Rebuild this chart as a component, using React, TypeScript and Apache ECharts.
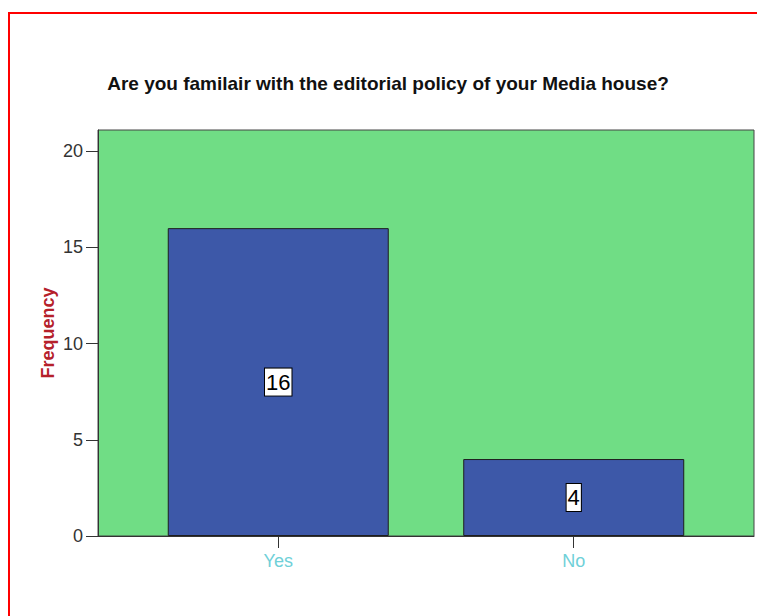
import React, { useEffect, useRef } from "react";
import * as echarts from "echarts";

// Survey responses
const categories: string[] = ["Yes", "No"];
const frequencies: number[] = [16, 4];
const yTicks: number[] = [0, 5, 10, 15, 20];

const titleText = "Are you familair with the editorial policy of your Media house?";
const yAxisName = "Frequency";

export default function App() {
  const ref = useRef<HTMLDivElement>(null);

  useEffect(() => {
    if (!ref.current) return;
    const chart = echarts.init(ref.current, null, { renderer: "svg" });
    const catIndex = categories.map((_, i) => i);

    chart.setOption({
      animation: false,
      backgroundColor: "#ffffff",
      title: {
        text: titleText,
        left: 383,
        textAlign: "center",
        top: 69,
        textStyle: {
          fontFamily: "Liberation Sans, Arial, sans-serif",
          fontWeight: "bold",
          fontSize: 19,
          color: "#111111",
        },
      },
      graphic: [
        {
          type: "line",
          shape: { x1: 8, y1: 13, x2: 757, y2: 13 },
          style: { stroke: "#ff0000", lineWidth: 2 },
        },
        {
          type: "line",
          shape: { x1: 9, y1: 12, x2: 9, y2: 616 },
          style: { stroke: "#ff0000", lineWidth: 2 },
        },
      ],
      grid: {
        left: 98,
        right: 3,
        top: 130,
        bottom: 80,
        show: true,
        backgroundColor: "#70dd85",
        borderColor: "#444444",
        borderWidth: 1,
      },
      xAxis: {
        type: "value",
        min: -0.61,
        max: 1.61,
        splitLine: { show: false },
        axisLine: { show: true, onZero: false, lineStyle: { color: "#333333", width: 1 } },
        axisTick: {
          show: true,
          customValues: catIndex,
          length: 12,
          lineStyle: { color: "#333333" },
        },
        axisLabel: {
          customValues: catIndex,
          formatter: (v: number) => categories[Math.round(v)] ?? "",
          margin: 16,
          fontFamily: "Liberation Sans, Arial, sans-serif",
          fontSize: 18,
          color: "#6fd0d8",
        },
      },
      yAxis: {
        type: "value",
        min: 0,
        max: 21.1,
        name: yAxisName,
        nameLocation: "middle",
        nameRotate: 90,
        nameGap: 41,
        nameMoveOverlap: false,
        nameTextStyle: {
          fontFamily: "Liberation Sans, Arial, sans-serif",
          fontWeight: "bold",
          fontSize: 18,
          color: "#b5202a",
        },
        splitLine: { show: false },
        axisLine: { show: true, onZero: false, lineStyle: { color: "#333333", width: 1 } },
        axisTick: {
          show: true,
          customValues: yTicks,
          length: 12,
          lineStyle: { color: "#333333" },
        },
        axisLabel: {
          customValues: yTicks,
          margin: 15,
          fontFamily: "Liberation Sans, Arial, sans-serif",
          fontSize: 18,
          color: "#333333",
        },
      },
      series: [
        {
          type: "bar",
          data: frequencies.map((v, i) => [i, v]),
          barWidth: 221,
          itemStyle: {
            color: "#3d58a8",
            borderColor: "#1e1e1e",
            borderWidth: 1,
          },
          label: {
            show: true,
            position: "inside",
            formatter: (p: any) => String(p.value[1]),
            fontFamily: "Liberation Sans, Arial, sans-serif",
            fontSize: 22,
            color: "#000000",
            backgroundColor: "#ffffff",
            borderColor: "#000000",
            borderWidth: 1,
            padding: [3, 1, 2, 1],
          },
        },
      ],
    });

    return () => chart.dispose();
  }, []);

  return (
    <div
      ref={ref}
      style={{ position: "fixed", left: 0, top: 0, width: 757, height: 616 }}
    />
  );
}
